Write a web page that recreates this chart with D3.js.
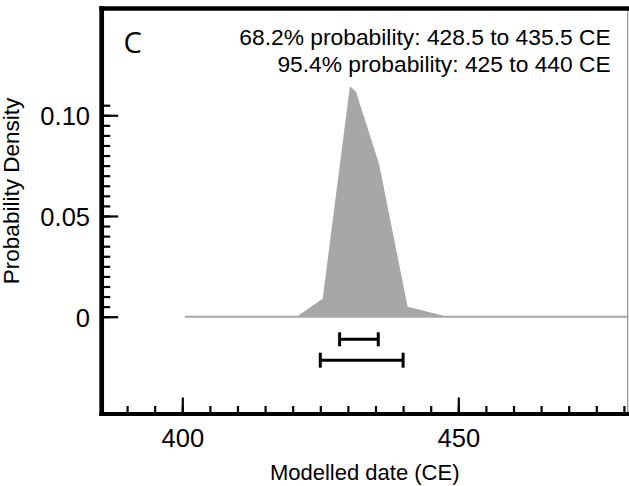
<!DOCTYPE html>
<html>
<head>
<meta charset="utf-8">
<script src="https://cdn.jsdelivr.net/npm/d3@7"></script>
<style>
  html, body { margin: 0; padding: 0; background: #fff; }
  svg { display: block; }
  text { font-family: "Liberation Sans", Arial, Helvetica, sans-serif; fill: #000; }
</style>
</head>
<body>
<svg id="chart" width="629" height="486"></svg>
<script>
// ---- data ----
const years   = [400.5, 421.0, 425.6, 430.5, 431.3, 435.5, 440.65, 447.3, 480.6];
const density = [0,     0,     0.0086, 0.1134, 0.1115, 0.0754, 0.0046, 0,   0];

const range68 = [428.5, 435.5];
const range95 = [425, 440];

const xMinorTicks = d3.range(390, 481, 5);
const xLabelTicks = [400, 450];
const yMinorTicks = d3.range(0, 0.1051, 0.005);
const yLabelTicks = [0, 0.05, 0.10];
const yLabelText  = ["0", "0.05", "0.10"];

const annotLines = ["68.2% probability: 428.5 to 435.5 CE",
                    "95.4% probability: 425 to 440 CE"];
const panelLetter = "C";
const xTitle = "Modelled date (CE)";
const yTitle = "Probability Density";

// ---- layout ----
const L = 101.7, R = 627.7, T = 8.5, B = 414;
const svg = d3.select("#chart");

const x = d3.scaleLinear().domain([385.4, 480.69]).range([L, R]);
const y = d3.scaleLinear().domain([-0.0483, 0.1530]).range([B, T]);

const pts = years.map((d, i) => [d, density[i]]);

// density area
const area = d3.area().x(d => x(d[0])).y0(y(0)).y1(d => y(d[1]));
svg.append("path")
  .datum(pts)
  .attr("d", area)
  .attr("fill", "#a6a8a8")
  .attr("stroke", "#a6a8a8")
  .attr("stroke-width", 2)
  .attr("stroke-linejoin", "miter");

// range bars
function rangeBar(r, yy, capH) {
  const g = svg.append("g").attr("stroke", "#000").attr("stroke-width", 3);
  g.append("line").attr("x1", x(r[0])).attr("x2", x(r[1])).attr("y1", yy).attr("y2", yy);
  r.forEach(v => g.append("line").attr("x1", x(v)).attr("x2", x(v))
      .attr("y1", yy - capH / 2).attr("y2", yy + capH / 2));
}
rangeBar(range68, y(0) + 22.6, 14);
rangeBar(range95, y(0) + 43.5, 15);

// x axis ticks (inside)
const xMinorAxis = d3.axisBottom(x).tickValues(xMinorTicks).tickSizeInner(-8).tickSizeOuter(0).tickFormat("");
const gxm = svg.append("g").attr("transform", `translate(0,${B})`).call(xMinorAxis);
const xMajorAxis = d3.axisBottom(x).tickValues(xLabelTicks).tickSizeInner(-16.5).tickSizeOuter(0)
  .tickPadding(15.3).tickFormat(d3.format("d"));
const gxM = svg.append("g").attr("transform", `translate(0,${B})`).call(xMajorAxis);
[gxm, gxM].forEach(g => {
  g.select(".domain").remove();
  g.selectAll(".tick line").attr("stroke", "#000").attr("stroke-width", 2.2);
});
gxM.selectAll(".tick text").attr("font-size", 25.5).attr("font-family", "Liberation Sans, Arial, sans-serif").attr("fill", "#000");

// y axis ticks (inside)
const yMinorAxis = d3.axisLeft(y).tickValues(yMinorTicks).tickSizeInner(-8.5).tickSizeOuter(0).tickFormat("");
const gym = svg.append("g").attr("transform", `translate(${L},0)`).call(yMinorAxis);
const yMajorAxis = d3.axisLeft(y).tickValues(yLabelTicks).tickSizeInner(-16.5).tickSizeOuter(0)
  .tickPadding(11.7).tickFormat((d, i) => yLabelText[i]);
const gyM = svg.append("g").attr("transform", `translate(${L},0)`).call(yMajorAxis);
[gym, gyM].forEach(g => {
  g.select(".domain").remove();
  g.selectAll(".tick line").attr("stroke", "#000").attr("stroke-width", 2.2);
});
gyM.selectAll(".tick text").attr("font-size", 25.5).attr("font-family", "Liberation Sans, Arial, sans-serif")
  .attr("fill", "#000").attr("dy", "0.38em");

// frame
svg.append("line").attr("x1", R).attr("x2", R).attr("y1", T).attr("y2", B)
  .attr("stroke", "#9a9a9a").attr("stroke-width", 1.3);
svg.append("line").attr("x1", L - 2.4).attr("x2", 629).attr("y1", T).attr("y2", T)
  .attr("stroke", "#000").attr("stroke-width", 4.5);
svg.append("line").attr("x1", L).attr("x2", L).attr("y1", T - 2.2).attr("y2", B + 2)
  .attr("stroke", "#000").attr("stroke-width", 4.7);
svg.append("line").attr("x1", L - 2.4).attr("x2", 629).attr("y1", B).attr("y2", B)
  .attr("stroke", "#000").attr("stroke-width", 4);

// panel letter
svg.append("text").attr("x", 123.5).attr("y", 53)
  .style("font-family", "'Open Sans', 'Noto Sans', sans-serif").style("font-weight", 400)
  .attr("font-size", 29).attr("fill", "#1a1a1a").text(panelLetter);

// annotations
svg.selectAll("text.annot").data(annotLines).enter().append("text")
  .attr("class", "annot")
  .attr("x", 610.7).attr("y", (d, i) => 45 + i * 26.8)
  .attr("text-anchor", "end").attr("font-size", 22.8).text(d => d);

// axis titles
svg.append("text").attr("x", (L + R) / 2).attr("y", 480)
  .attr("text-anchor", "middle").attr("font-size", 22).text(xTitle);
svg.append("text").attr("transform", `translate(18.5,${191}) rotate(-90)`)
  .attr("text-anchor", "middle").attr("font-size", 22.5).text(yTitle);
</script>
</body>
</html>
